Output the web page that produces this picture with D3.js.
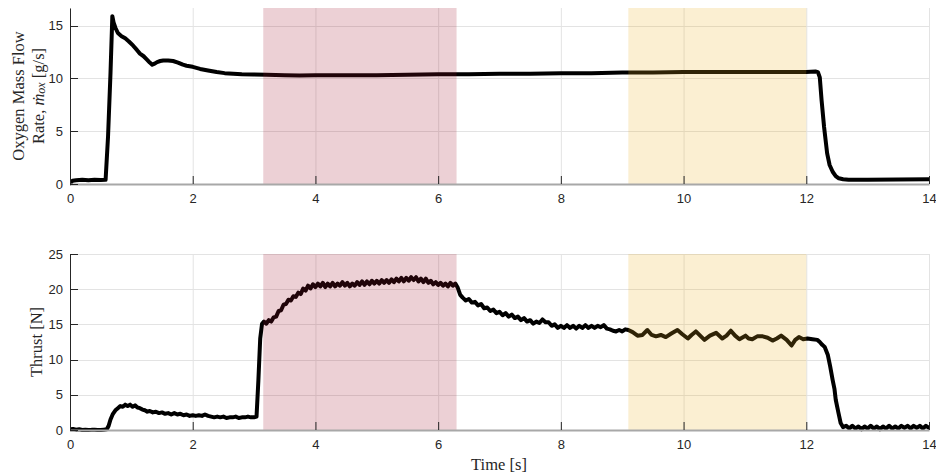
<!DOCTYPE html>
<html><head><meta charset="utf-8">
<script src="https://cdn.jsdelivr.net/npm/d3@7/dist/d3.min.js"></script>
<style>body{margin:0;background:#fff}svg{display:block}</style>
</head><body>
<svg id="chart" width="936" height="475"></svg>
<script>
// ---------- data ----------
const xTicks = [0, 2, 4, 6, 8, 10, 12, 14];
const oxTicks = [0, 5, 10, 15];
const thrustTicks = [0, 5, 10, 15, 20, 25];
const redBand = [3.15, 6.3];
const yellowBand = [9.1, 12.0];

const oxTime = [0, 0.04, 0.1, 0.2, 0.3, 0.4, 0.5, 0.58, 0.62, 0.66, 0.69, 0.71, 0.74, 0.78, 0.84, 0.9, 0.96, 1.03, 1.09, 1.14, 1.2, 1.25, 1.3, 1.34, 1.38, 1.42, 1.47, 1.52, 1.6, 1.68, 1.76, 1.84, 1.9, 2.0, 2.12, 2.25, 2.39, 2.52, 2.66, 2.8, 2.99, 3.2, 3.5, 3.74, 4.0, 4.5, 5.0, 5.5, 6.0, 6.5, 7.0, 7.5, 8.0, 8.5, 9.0, 9.5, 10.0, 10.5, 11.0, 11.5, 12.0, 12.15, 12.19, 12.22, 12.25, 12.29, 12.34, 12.38, 12.43, 12.48, 12.53, 12.6, 12.69, 13.0, 13.5, 14.0];
const oxFlow = [0.05, 0.3, 0.35, 0.4, 0.35, 0.4, 0.38, 0.4, 4.5, 10.5, 15.9, 15.3, 14.8, 14.3, 14.0, 13.8, 13.5, 13.1, 12.7, 12.35, 12.1, 11.8, 11.5, 11.3, 11.4, 11.55, 11.65, 11.7, 11.7, 11.65, 11.5, 11.3, 11.2, 11.1, 10.9, 10.75, 10.6, 10.5, 10.45, 10.4, 10.37, 10.34, 10.3, 10.27, 10.3, 10.3, 10.3, 10.35, 10.4, 10.4, 10.45, 10.45, 10.5, 10.5, 10.55, 10.55, 10.6, 10.6, 10.6, 10.6, 10.6, 10.65, 10.6, 10.1, 7.9, 5.4, 2.9, 1.8, 1.16, 0.75, 0.54, 0.45, 0.4, 0.4, 0.42, 0.45];

const thrustTime = [
  0, 0.05, 0.1, 0.15, 0.2, 0.25, 0.3, 0.35, 0.4, 0.45, 0.5, 0.55, 0.6,
  0.63, 0.66, 0.7, 0.74, 0.78, 0.82, 0.86, 0.9, 0.94, 0.98, 1.02, 1.06, 1.1, 1.14, 1.18, 1.22, 1.26, 1.3, 1.35, 1.4, 1.45, 1.5, 1.55, 1.6, 1.65, 1.7, 1.75, 1.8, 1.85, 1.9, 1.95, 2.0, 2.05, 2.1, 2.15, 2.2, 2.25, 2.3, 2.35, 2.4, 2.45, 2.5, 2.55, 2.6, 2.65, 2.7, 2.75, 2.8, 2.85, 2.9, 2.95, 3.0, 3.04, 3.07, 3.1, 3.13,
  3.16, 3.2, 3.24, 3.28, 3.32, 3.36, 3.4, 3.44, 3.48, 3.52, 3.56, 3.6, 3.64, 3.68, 3.72, 3.76, 3.8, 3.84, 3.88, 3.92, 3.96, 4.0, 4.04, 4.08, 4.12, 4.16, 4.2, 4.24, 4.28, 4.32, 4.36, 4.4, 4.44, 4.48, 4.52, 4.56, 4.6, 4.64, 4.68, 4.72, 4.76, 4.8, 4.84, 4.88, 4.92, 4.96, 5.0, 5.04, 5.08, 5.12, 5.16, 5.2, 5.24, 5.28, 5.32, 5.36, 5.4, 5.44, 5.48, 5.52, 5.56, 5.6, 5.64, 5.68, 5.72, 5.76, 5.8, 5.84, 5.88, 5.92, 5.96, 6.0, 6.04, 6.08, 6.12, 6.16, 6.2, 6.24, 6.28, 6.32, 6.36, 6.4,
  6.45, 6.5, 6.55, 6.6, 6.65, 6.7, 6.75, 6.8, 6.85, 6.9, 6.95, 7.0, 7.05, 7.1, 7.15, 7.2, 7.25, 7.3, 7.35, 7.4, 7.45, 7.5, 7.55, 7.6, 7.65, 7.7, 7.75, 7.8, 7.85, 7.9, 7.95, 8.0, 8.05, 8.1, 8.15, 8.2, 8.25, 8.3, 8.35, 8.4, 8.45, 8.5, 8.55, 8.6, 8.65, 8.7, 8.75, 8.8, 8.85, 8.9, 8.95, 9.0, 9.05, 9.1,
  9.17, 9.25, 9.33, 9.41, 9.48, 9.55, 9.63, 9.71, 9.8, 9.9, 9.98, 10.07, 10.13, 10.2, 10.27, 10.34, 10.43, 10.53, 10.63, 10.7, 10.77, 10.84, 10.91, 11.01, 11.06, 11.12, 11.2, 11.29, 11.37, 11.45, 11.52, 11.59, 11.68, 11.76, 11.82, 11.88, 11.95, 12.02, 12.1, 12.18, 12.22, 12.26, 12.3, 12.35, 12.39, 12.43, 12.46, 12.48, 12.52, 12.56, 12.6,
  12.65, 12.7, 12.75, 12.8, 12.85, 12.9, 12.95, 13.0, 13.05, 13.1, 13.15, 13.2, 13.25, 13.3, 13.35, 13.4, 13.45, 13.5, 13.55, 13.6, 13.65, 13.7, 13.75, 13.8, 13.85, 13.9, 13.95, 14.0
];
const thrust = [
  0.1, 0.15, 0.05, 0.1, 0.0, 0.05, 0.0, 0.02, 0.05, 0.0, 0.0, 0.05, 0.1,
  0.6, 1.5, 2.3, 2.8, 3.1, 3.4, 3.3, 3.6, 3.4, 3.6, 3.3, 3.5, 3.2, 3.1, 2.9, 2.8, 2.6, 2.7, 2.5, 2.6, 2.4, 2.5, 2.3, 2.4, 2.2, 2.4, 2.2, 2.3, 2.1, 2.2, 2.0, 2.1, 2.0, 2.1, 2.0, 2.2, 2.0, 1.9, 1.8, 1.9, 1.8, 1.9, 1.7, 1.8, 1.8, 1.9, 1.7, 1.8, 1.8, 1.9, 1.8, 1.8, 1.9, 7.0, 13.0, 15.1,
  15.4, 15.1, 15.6, 15.4, 16.0, 16.1, 16.9, 17.0, 17.8, 17.9, 18.5, 18.4, 19.0, 18.9, 19.5, 19.3, 20.1, 19.8, 20.5, 20.1, 20.7, 20.3, 20.8, 20.4, 20.9, 20.3, 20.8, 20.4, 20.9, 20.4, 20.8, 20.5, 21.0, 20.5, 20.9, 20.4, 20.8, 20.5, 21.0, 20.6, 21.1, 20.6, 21.1, 20.7, 21.2, 20.8, 21.2, 20.8, 21.3, 20.9, 21.3, 20.9, 21.4, 21.0, 21.5, 21.1, 21.6, 21.1, 21.6, 21.2, 21.7, 21.3, 21.7, 21.1, 21.5, 21.0, 21.5, 20.9, 21.2, 20.7, 21.0, 20.6, 20.9, 20.5, 20.8, 20.4, 20.9, 20.5, 20.8, 20.2, 19.2, 18.8,
  18.4, 18.6, 18.1, 18.2, 17.7, 17.9, 17.3, 17.4, 16.9, 17.1, 16.6, 16.8, 16.3, 16.6, 16.1, 16.4, 15.9, 16.1, 15.6, 15.9, 15.4, 15.6, 15.1, 15.4, 15.2, 15.7, 15.3, 15.3, 14.8, 15.0, 14.5, 14.8, 14.5, 14.9, 14.5, 14.8, 14.4, 14.8, 14.5, 14.9, 14.5, 14.8, 14.5, 14.8, 14.6, 14.9, 14.4, 14.3, 14.1, 14.0, 14.2, 14.0, 14.3, 14.2,
  13.9, 13.4, 13.5, 14.2, 13.5, 13.3, 13.5, 13.2, 13.7, 14.2, 13.6, 13.0, 13.5, 14.0, 13.4, 12.8, 13.4, 13.8, 13.0, 13.4, 14.1, 13.4, 12.9, 13.4, 13.0, 12.9, 13.3, 13.3, 13.1, 12.7, 13.0, 13.4, 12.8, 12.0, 12.8, 13.2, 12.9, 13.0, 12.9, 12.8, 12.5, 12.1, 11.8, 10.7, 9.0, 7.1, 5.8, 4.3, 2.6, 1.0, 0.4,
  0.6, 0.2, 0.6, 0.2, 0.5, 0.1, 0.5, 0.2, 0.6, 0.2, 0.5, 0.1, 0.5, 0.2, 0.6, 0.2, 0.5, 0.2, 0.6, 0.3, 0.6, 0.2, 0.6, 0.3, 0.6, 0.2, 0.6, 0.3
];

// ---------- drawing ----------
const svg = d3.select("#chart");
const X0 = 70, X1 = 929;
const x = d3.scaleLinear().domain([0, 14]).range([X0, X1]);
const textColor = "#262626";
const tickFont = "Liberation Sans, Arial, Helvetica, sans-serif";
const serif = "Liberation Serif, Times New Roman, serif";

function panel(id, top, bottom, ymax, yticks, times, vals) {
  const y = d3.scaleLinear().domain([0, ymax]).range([bottom, top]);
  const g = svg.append("g");
  g.append("clipPath").attr("id", "clip" + id).append("rect")
    .attr("x", X0).attr("y", top - 2).attr("width", X1 - X0).attr("height", bottom - top + 4);
  // grid
  const grid = g.append("g");
  grid.selectAll(".gx").data(xTicks).join("line")
    .attr("x1", d => x(d) + 0.5).attr("x2", d => x(d) + 0.5)
    .attr("y1", top).attr("y2", bottom)
    .attr("stroke", "#e3e3e3").attr("stroke-width", 1);
  grid.selectAll(".gy").data(yticks).join("line")
    .attr("x1", X0).attr("x2", X1)
    .attr("y1", d => Math.round(y(d)) + 0.5).attr("y2", d => Math.round(y(d)) + 0.5)
    .attr("stroke", "#e3e3e3").attr("stroke-width", 1);
  // line
  const pts = times.map((t, i) => [t, vals[i]]);
  g.append("path").datum(pts)
    .attr("clip-path", `url(#clip${id})`)
    .attr("d", d3.line().x(d => x(d[0])).y(d => y(d[1])))
    .attr("fill", "none").attr("stroke", "#000").attr("stroke-width", 4)
    .attr("stroke-linejoin", "round").attr("stroke-linecap", "round");
  // shaded bands over
  g.append("rect").attr("x", x(redBand[0])).attr("width", x(redBand[1]) - x(redBand[0]))
    .attr("y", top).attr("height", bottom - top)
    .attr("fill", "rgb(162,20,47)").attr("fill-opacity", 0.2);
  g.append("rect").attr("x", x(yellowBand[0])).attr("width", x(yellowBand[1]) - x(yellowBand[0]))
    .attr("y", top).attr("height", bottom - top)
    .attr("fill", "rgb(237,177,32)").attr("fill-opacity", 0.2);
  // x axis
  const xa = g.append("g").attr("transform", `translate(0,${bottom})`)
    .call(d3.axisBottom(x).tickValues(xTicks).tickSize(0).tickPadding(10).tickFormat(d3.format("d")));
  xa.select(".domain").attr("stroke", "#a8a8a8").attr("stroke-width", 2);
  xa.selectAll("text").attr("font-family", tickFont).attr("font-size", 13).attr("fill", textColor);
  g.selectAll(".xt").data(xTicks).join("line")
    .attr("x1", d => x(d) + 0.5).attr("x2", d => x(d) + 0.5)
    .attr("y1", bottom).attr("y2", bottom - 8)
    .attr("stroke", textColor).attr("stroke-width", 1);
  // y axis
  const ya = g.append("g").attr("transform", `translate(${X0},0)`)
    .call(d3.axisLeft(y).tickValues(yticks).tickSize(0).tickPadding(7).tickFormat(d3.format("d")));
  ya.select(".domain").attr("stroke", textColor).attr("stroke-width", 1);
  ya.selectAll("text").attr("font-family", tickFont).attr("font-size", 13).attr("fill", textColor);
  g.selectAll(".yt").data(yticks).join("line")
    .attr("x1", X0).attr("x2", X0 + 8)
    .attr("y1", d => Math.round(y(d)) + 0.5).attr("y2", d => Math.round(y(d)) + 0.5)
    .attr("stroke", textColor).attr("stroke-width", 1);
  return y;
}

panel("top", 8, 184, 16.67, oxTicks, oxTime, oxFlow);
panel("bot", 254, 430, 25, thrustTicks, thrustTime, thrust);

// axis labels
const lab1 = svg.append("text").attr("transform", "translate(18,96) rotate(-90)")
  .attr("text-anchor", "middle").attr("dominant-baseline", "central")
  .attr("font-family", serif).attr("font-size", 16.5).attr("fill", textColor)
  .text("Oxygen Mass Flow");
const lab2 = svg.append("text").attr("transform", "translate(38,96) rotate(-90)")
  .attr("text-anchor", "middle").attr("dominant-baseline", "central")
  .attr("font-family", serif).attr("font-size", 16.5).attr("fill", textColor);
lab2.append("tspan").text("Rate, ");
lab2.append("tspan").attr("font-style", "italic").text("ṁ");
lab2.append("tspan").attr("font-style", "italic").attr("font-size", 12).attr("dy", 3).text("ox");
lab2.append("tspan").attr("dy", -3).text(" [g/s]");

svg.append("text").attr("transform", "translate(36,342) rotate(-90)")
  .attr("text-anchor", "middle").attr("dominant-baseline", "central")
  .attr("font-family", serif).attr("font-size", 16.5).attr("fill", textColor)
  .text("Thrust [N]");
svg.append("text").attr("x", 499).attr("y", 464)
  .attr("text-anchor", "middle").attr("dominant-baseline", "central")
  .attr("font-family", serif).attr("font-size", 16.5).attr("fill", textColor)
  .text("Time [s]");
</script>
</body></html>
